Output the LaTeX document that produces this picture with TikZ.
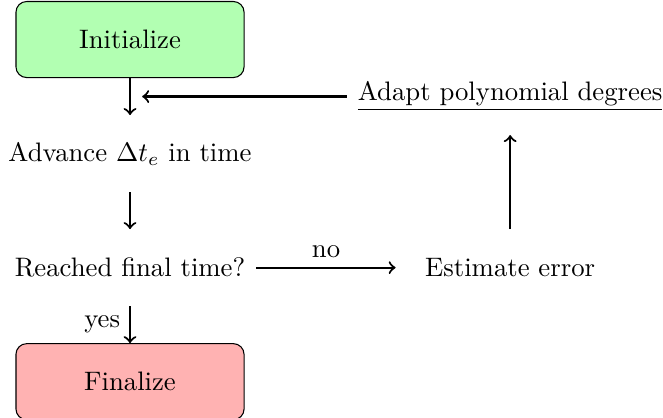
\documentclass[tikz,border=0pt]{standalone}
\usetikzlibrary{positioning, calc}

\tikzset{
	stage/.style = {minimum width = 3 cm, minimum height = 1 cm, inner sep = 4 pt},
	stagebox/.style = {stage, draw, rounded corners},
	flow/.style = {->, thick}
}

\begin{document}
\begin{tikzpicture}

	\useasboundingbox (-1.71, 0.52) rectangle (7.01, -4.97);

	% Start and end boxes
	
	\node (init) at (0, 0) [stagebox, fill = green!30] {Initialize};
	\node (final) at (0, -4.5) [stagebox, fill = red!30] {Finalize};
	
	% Time stepping and adaptivity steps
	
	\node (advance) at (0, -1.5) [stage] {Advance $\Delta t_e$ in time};
	\node (reached) at (0, -3) [stage] {Reached final time?};
	\node (estimate) at (5, -3) [stage] {Estimate error};
	\node (adapt) at (5, -0.75) [stage] {\underline{Adapt polynomial degrees}};
	
	\coordinate (merge) at ($(init.south)!0.5!(advance.north) + (0.16, 0)$);
	
	% Connectors
	
	\draw [flow] (init) -- (advance);
	\draw [flow] (advance) -- (reached);
	\draw [flow] (reached) -- node [above] {no} (estimate);
	\draw [flow] (estimate) -- (adapt);
	\draw [flow] (adapt) -- (merge);
	\draw [flow] (reached) -- node [left] {yes} (final);
	
\end{tikzpicture}
\end{document}
